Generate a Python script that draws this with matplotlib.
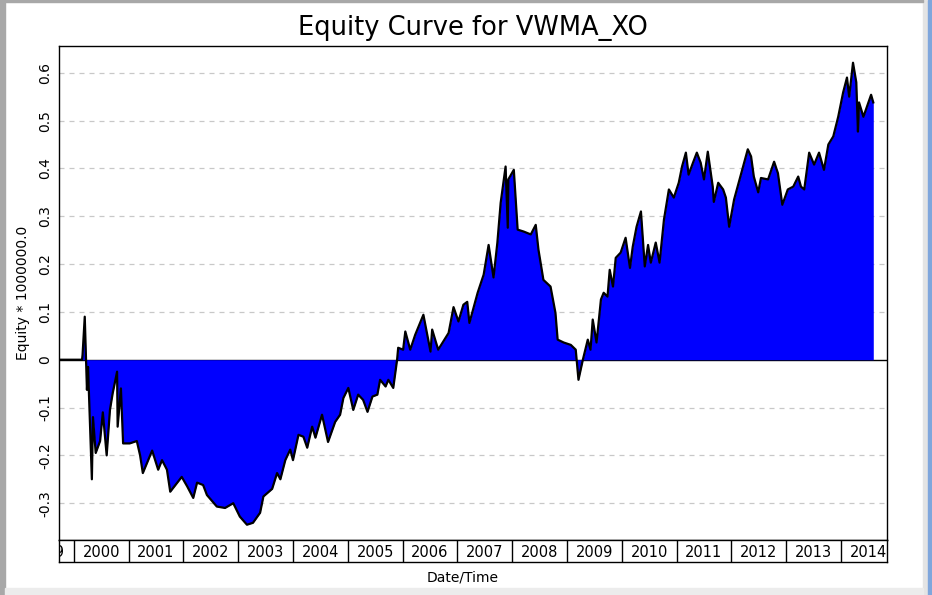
import matplotlib
matplotlib.use("Agg")
import matplotlib.pyplot as plt
from matplotlib.patches import Rectangle
import numpy as np

# ---------------------------------------------------------------------------
# Data (fractional year, equity / 1e6)
# ---------------------------------------------------------------------------
years = np.array([
    1999.73, 2000.15, 2000.16, 2000.20, 2000.24, 2000.26, 2000.33, 2000.35,
    2000.40, 2000.48, 2000.53, 2000.60, 2000.66, 2000.71, 2000.79, 2000.80,
    2000.86, 2000.90, 2001.02, 2001.15, 2001.21, 2001.26, 2001.43, 2001.54,
    2001.61, 2001.70, 2001.76, 2001.97, 2002.07, 2002.18, 2002.25, 2002.36,
    2002.43, 2002.61, 2002.76, 2002.91, 2003.03, 2003.16, 2003.27, 2003.40,
    2003.46, 2003.62, 2003.71, 2003.77, 2003.86, 2003.95, 2004.00, 2004.10,
    2004.19, 2004.26, 2004.35, 2004.41, 2004.53, 2004.64, 2004.77, 2004.86,
    2004.92, 2005.01, 2005.10, 2005.19, 2005.28, 2005.36, 2005.45, 2005.54,
    2005.59, 2005.69, 2005.74, 2005.83, 2005.90, 2005.92, 2006.01, 2006.05,
    2006.14, 2006.23, 2006.38, 2006.51, 2006.54, 2006.65, 2006.84, 2006.93,
    2007.02, 2007.11, 2007.18, 2007.22, 2007.37, 2007.48, 2007.57, 2007.66,
    2007.73, 2007.79, 2007.88, 2007.92, 2007.93, 2008.03, 2008.10, 2008.21,
    2008.34, 2008.43, 2008.48, 2008.57, 2008.70, 2008.79, 2008.83, 2008.94,
    2009.07, 2009.16, 2009.21, 2009.29, 2009.38, 2009.43, 2009.47, 2009.54,
    2009.62, 2009.67, 2009.74, 2009.78, 2009.84, 2009.89, 2009.98, 2010.07,
    2010.15, 2010.20, 2010.27, 2010.35, 2010.42, 2010.48, 2010.53, 2010.62,
    2010.69, 2010.77, 2010.86, 2010.95, 2011.04, 2011.10, 2011.17, 2011.22,
    2011.30, 2011.37, 2011.44, 2011.50, 2011.57, 2011.66, 2011.68, 2011.76,
    2011.85, 2011.90, 2011.96, 2012.05, 2012.18, 2012.30, 2012.36, 2012.41,
    2012.49, 2012.54, 2012.67, 2012.78, 2012.85, 2012.93, 2013.03, 2013.13,
    2013.22, 2013.27, 2013.33, 2013.42, 2013.51, 2013.60, 2013.69, 2013.77,
    2013.86, 2013.95, 2014.04, 2014.11, 2014.15, 2014.22, 2014.28, 2014.31,
    2014.33, 2014.41, 2014.50, 2014.55, 2014.59,
])
equity = np.array([
    0.000, 0.000, 0.010, 0.090, -0.063, -0.015, -0.250, -0.120,
    -0.195, -0.170, -0.110, -0.200, -0.105, -0.070, -0.025, -0.140,
    -0.060, -0.175, -0.175, -0.170, -0.200, -0.237, -0.190, -0.230,
    -0.210, -0.230, -0.276, -0.245, -0.265, -0.289, -0.257, -0.262,
    -0.283, -0.307, -0.310, -0.300, -0.328, -0.345, -0.341, -0.320,
    -0.286, -0.270, -0.237, -0.250, -0.210, -0.188, -0.210, -0.157,
    -0.161, -0.184, -0.140, -0.163, -0.115, -0.172, -0.130, -0.115,
    -0.080, -0.059, -0.105, -0.073, -0.084, -0.109, -0.077, -0.073,
    -0.042, -0.056, -0.042, -0.059, 0.000, 0.025, 0.021, 0.059,
    0.021, 0.052, 0.094, 0.017, 0.063, 0.021, 0.056, 0.110,
    0.080, 0.115, 0.121, 0.077, 0.140, 0.178, 0.240, 0.172,
    0.245, 0.328, 0.404, 0.276, 0.377, 0.397, 0.272, 0.268,
    0.262, 0.282, 0.230, 0.167, 0.153, 0.098, 0.042, 0.036,
    0.031, 0.021, -0.042, 0.000, 0.042, 0.021, 0.084, 0.036,
    0.126, 0.140, 0.132, 0.188, 0.153, 0.213, 0.224, 0.255,
    0.192, 0.236, 0.278, 0.310, 0.195, 0.240, 0.203, 0.245,
    0.203, 0.293, 0.356, 0.339, 0.370, 0.404, 0.433, 0.387,
    0.412, 0.433, 0.412, 0.377, 0.435, 0.362, 0.330, 0.370,
    0.356, 0.339, 0.278, 0.335, 0.390, 0.440, 0.425, 0.383,
    0.350, 0.380, 0.377, 0.414, 0.390, 0.324, 0.356, 0.362,
    0.383, 0.362, 0.356, 0.433, 0.408, 0.433, 0.397, 0.450,
    0.467, 0.508, 0.559, 0.590, 0.550, 0.621, 0.580, 0.477,
    0.538, 0.508, 0.538, 0.554, 0.538,
])
y_ticks = [-0.3, -0.2, -0.1, 0, 0.1, 0.2, 0.3, 0.4, 0.5, 0.6]
y_tick_labels = ["-0.3", "-0.2", "-0.1", "0", "0.1", "0.2", "0.3", "0.4", "0.5", "0.6"]
year_labels = list(range(1999, 2015))

X_MIN, X_MAX = 1999.73, 2014.84
Y_MIN, Y_MAX = -0.377, 0.656

# ---------------------------------------------------------------------------
# Figure
# ---------------------------------------------------------------------------
fig = plt.figure(figsize=(9.32, 5.95), dpi=100)

# window frame bits around the chart panel
fig.patches.append(Rectangle((0, 0), 0.005, 1, transform=fig.transFigure,
                             color="#a8a8a8", zorder=0))
fig.patches.append(Rectangle((0.990, 0), 0.006, 1, transform=fig.transFigure,
                             color="#e4e4e4", zorder=0))
fig.patches.append(Rectangle((0.996, 0), 0.004, 1, transform=fig.transFigure,
                             color="#7fa6dc", zorder=0))
fig.patches.append(Rectangle((0, 0.997), 0.990, 0.003, transform=fig.transFigure,
                             color="#a8a8a8", zorder=0))
fig.patches.append(Rectangle((0.005, 0.0), 0.985, 0.012, transform=fig.transFigure,
                             color="#ececec", zorder=0))

ax = fig.add_axes([0.0633, 0.0924, 0.8884, 0.8303])
ax.axhline(0, color="black", linewidth=1.0, zorder=1)
ax.fill_between(years, 0, equity, color="#0000ff", linewidth=0, zorder=2)
ax.plot(years, equity, color="black", linewidth=1.6, zorder=3)

ax.set_xlim(X_MIN, X_MAX)
ax.set_ylim(Y_MIN, Y_MAX)
ax.set_xticks([])
ax.set_yticks(y_ticks)
ax.set_yticklabels(y_tick_labels, rotation=90, va="center", fontsize=10)
ax.tick_params(axis="y", length=0, pad=5)
for lbl in ax.get_yticklabels():
    lbl.set_bbox(dict(facecolor="white", edgecolor="none",
                      boxstyle="square,pad=0.6"))
for v in y_ticks:
    if v != 0:
        ax.axhline(v, color="#c8c8c8", linewidth=0.9,
                   linestyle=(0, (4, 4)), zorder=0.5)
for s in ax.spines.values():
    s.set_color("black")
    s.set_linewidth(1.0)
ax.set_ylabel("Equity * 1000000.0", fontsize=10, labelpad=6)
ax.set_title("Equity Curve for VWMA_XO", fontsize=18.5, pad=8)

# year strip under the plot
ax2 = fig.add_axes([0.0633, 0.0555, 0.8884, 0.0369])
ax2.set_xlim(X_MIN, X_MAX)
ax2.set_ylim(0, 1)
ax2.set_xticks([])
ax2.set_yticks([])
for s in ax2.spines.values():
    s.set_color("black")
    s.set_linewidth(1.0)
for yr in year_labels:
    if yr > year_labels[0]:
        ax2.axvline(yr, color="black", linewidth=1.0)
    ax2.text(yr + 0.5, 0.45, str(yr), ha="center", va="center",
             fontsize=10.5, clip_on=True)
fig.text(0.4967, 0.030, "Date/Time", ha="center", va="center", fontsize=10)

fig.savefig("out.png", dpi=100)
